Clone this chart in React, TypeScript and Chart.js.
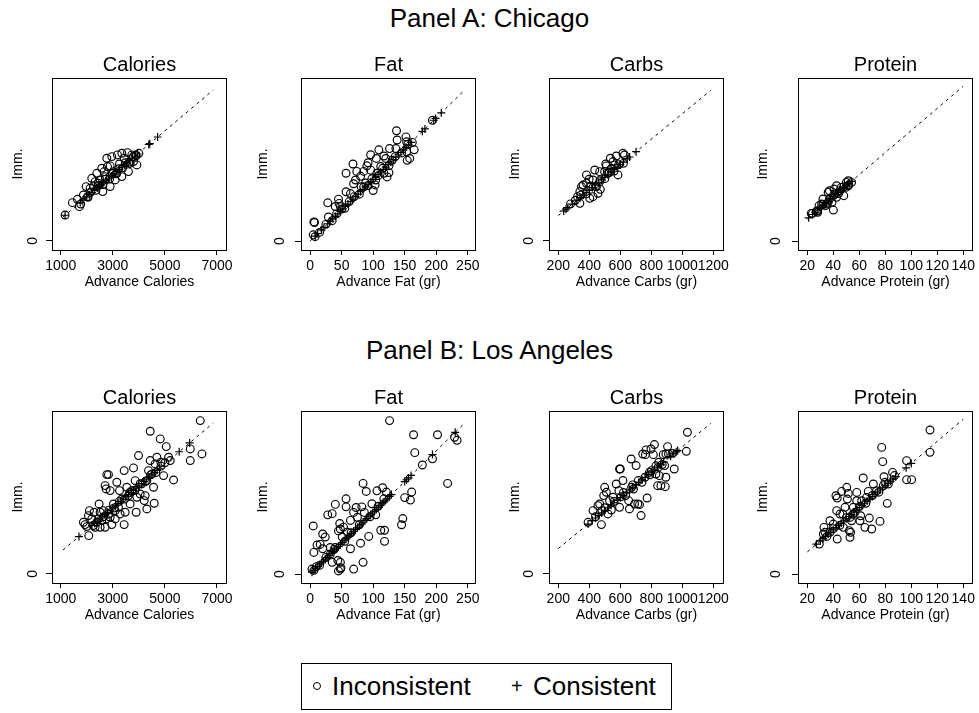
import React, { useEffect, useRef } from 'react';
import { Chart, registerables } from 'chart.js';
Chart.register(...registerables);

const FONT = '"Liberation Sans", Arial, Helvetica, sans-serif';

// ---------- categories / axes ----------
const nutrients = ['Calories', 'Fat', 'Carbs', 'Protein'];
const xAxisTitles = ['Advance Calories', 'Advance Fat (gr)', 'Advance Carbs (gr)', 'Advance Protein (gr)'];
const xTickValues = [
  [1000, 3000, 5000, 7000],
  [0, 50, 100, 150, 200, 250],
  [200, 400, 600, 800, 1000, 1200],
  [20, 40, 60, 80, 100, 120, 140],
];
const yTickValues = [0];
const xLimits: [number, number][] = [[665, 7385], [-14.4, 263], [140, 1269], [12.8, 147.5]];
const yLimits: [number, number][] = [[-410, 7400], [-14.6, 264.6], [-71, 1281], [-8.1, 147.4]];
const diagonalEnds: [number, number][] = [[1088, 6858], [0, 244], [200, 1183], [20, 140]];
const panelTitles = ['Panel A: Chicago', 'Panel B: Los Angeles'];
const legendLabels = ['Inconsistent', 'Consistent'];

// ---------- Panel A: Chicago ----------
const chicagoCaloriesInconsistent: [number, number][] = [
  [1167, 1181], [1449, 1741], [1718, 1559], [1769, 1680], [1974, 2468], [2026, 2014], [2192, 2846], [2256, 2468],
  [2385, 3073], [2449, 2619], [2577, 3301], [2615, 2241], [2705, 2922], [2769, 3755], [2795, 3376], [2897, 2468],
  [2961, 3830], [3026, 3149], [3090, 2771], [3179, 3906], [3256, 3497], [3346, 3982], [3346, 2922], [3436, 3755],
  [3564, 4012], [3602, 3149], [3730, 3906], [3795, 3603], [3897, 3861], [3923, 3452], [2513, 2770], [2320, 2695],
  [1872, 2089], [1641, 1892], [2128, 2392], [3154, 3073], [2897, 3407], [2667, 3149], [3666, 3528], [2050, 1980],
  [2150, 2220], [2350, 2300], [2450, 2520], [2620, 2560], [2720, 2800], [2880, 2820], [2980, 3060], [3120, 3050],
  [3220, 3280], [3380, 3320], [3480, 3550], [3620, 3580], [3780, 3820], [3880, 3900], [4000, 3980],
];
const chicagoCaloriesConsistent = [
  1167, 1750, 1850, 2000, 2100, 2200, 2300, 2400, 2480, 2550, 2650, 2750, 2850, 2950, 3050, 3150, 3250, 3350,
  3450, 3550, 3650, 3750, 3850, 3950, 4380, 4420, 4720,
];
const chicagoFatInconsistent: [number, number][] = [
  [5, 10], [8, 7], [6, 31], [7, 30], [28, 62], [45, 68], [46, 61], [57, 80], [57, 110], [68, 125], [69, 93], [80, 105],
  [81, 88], [90, 122], [92, 127], [96, 140], [100, 82], [103, 91], [105, 134], [109, 148], [117, 138], [120, 134],
  [126, 150], [136, 150], [137, 179], [138, 164], [152, 169], [153, 161], [154, 131], [158, 134], [165, 148],
  [153, 145], [117, 110], [112, 121], [85, 113], [74, 113], [96, 115], [106, 110], [72, 99], [64, 77], [48, 56],
  [40, 56], [29, 39], [88, 94], [130, 131], [125, 111], [122, 104], [104, 99], [194, 196], [15, 14], [25, 27],
  [35, 33], [42, 44], [50, 52], [55, 53], [62, 64], [70, 72], [78, 76], [85, 88], [92, 90], [98, 101], [108, 106],
  [115, 118], [125, 122], [135, 137], [145, 143], [155, 157], [162, 160],
];
const chicagoFatConsistent = [
  8, 12, 18, 22, 28, 32, 36, 40, 44, 48, 52, 56, 60, 64, 68, 72, 76, 80, 84, 88, 92, 96, 100, 104, 108, 112, 116,
  120, 124, 128, 132, 136, 140, 144, 148, 152, 156, 160, 178, 182, 196, 199, 208,
];
const chicagoCarbsInconsistent: [number, number][] = [
  [279, 291], [339, 296], [324, 348], [350, 427], [360, 440], [382, 453], [403, 335], [435, 558], [399, 485],
  [471, 406], [467, 466], [499, 545], [510, 590], [506, 605], [536, 650], [574, 668], [585, 519], [617, 689],
  [627, 676], [424, 479], [446, 427], [467, 545], [553, 624], [542, 571], [382, 519], [339, 388], [456, 375],
  [424, 348], [521, 532], [564, 597], [310, 320], [345, 360], [380, 370], [410, 430], [440, 430], [470, 480],
  [500, 490], [530, 540], [560, 550], [590, 600], [620, 610],
];
const chicagoCarbsConsistent = [
  235, 250, 262, 290, 320, 340, 360, 380, 400, 420, 440, 460, 480, 500, 520, 540, 560, 580, 600, 620, 645, 660, 702,
];
const chicagoProteinInconsistent: [number, number][] = [
  [23, 25], [27, 27], [29, 32], [28, 26], [32, 38], [34, 32], [36, 44], [37, 38], [40, 28], [40.5, 47], [42.5, 50],
  [46, 48.5], [48, 41], [50, 53], [51.5, 54.5], [49.7, 48.5], [45, 45.5], [42.5, 39.5], [39, 35], [35, 33.5],
  [31, 33.5], [41, 42.5], [37, 45.5], [51.5, 50], [54, 53], [24, 25], [28, 27.5], [32, 33], [36, 35], [40, 41],
  [44, 43], [48, 49], [52, 51],
];
const chicagoProteinConsistent = [21, 24, 26, 28, 30, 32, 34, 36, 38, 40, 42, 44, 46, 48, 50, 52, 54];

// ---------- Panel B: Los Angeles ----------
const laCaloriesInconsistent: [number, number][] = [
  [2077, 1741], [1872, 2347], [1936, 2241], [2102, 2877], [2064, 2650], [2192, 2498], [2282, 2801], [2385, 2347],
  [2474, 3179], [2513, 2801], [2577, 2422], [2705, 2120], [2743, 2498], [2769, 4512], [2833, 4512], [2705, 4012],
  [2743, 3861], [2897, 3785], [2961, 2241], [2897, 2574], [3090, 2877], [3154, 4163], [3256, 3785], [3436, 4693],
  [3436, 2241], [3474, 2801], [3538, 3936], [3602, 3558], [3666, 3179], [3795, 4815], [3859, 4239], [3897, 2801],
  [3987, 5375], [4051, 3633], [4205, 3331], [4244, 3558], [4308, 2952], [4436, 6480], [4436, 5148], [4500, 4542],
  [4564, 3936], [4590, 3210], [4628, 4996], [4692, 5299], [4821, 6132], [4846, 5072], [4949, 4466], [5051, 5783],
  [5141, 5299], [5205, 5148], [5333, 4269], [5974, 5148], [5974, 5678], [6359, 6964], [6423, 5451], [1999, 2150],
  [2320, 2120], [2513, 2120], [2641, 2877], [2833, 2725], [3026, 3179], [3218, 3028], [3346, 3406], [3090, 2498],
  [3282, 2725], [3730, 3785], [3923, 3482], [4115, 4088], [4308, 4239], [4372, 4693], [2250, 2200], [2450, 2500],
  [2650, 2600], [2850, 2900], [3050, 3000], [3250, 3300], [3450, 3400], [3650, 3700], [3850, 3800], [4050, 4100],
  [4250, 4200], [4450, 4500], [4650, 4600], [4850, 4900], [5000, 5050],
];
const laCaloriesConsistent = [
  1700, 2200, 2300, 2400, 2500, 2600, 2700, 2800, 2900, 3000, 3100, 3200, 3300, 3400, 3500, 3600, 3700, 3800,
  3900, 4000, 4100, 4200, 4300, 4400, 4500, 4600, 4700, 4800, 5550, 5950,
];
const laFatInconsistent: [number, number][] = [
  [126, 249], [164, 226], [202, 226], [229, 222], [233, 217], [166, 197], [178, 177], [194, 187], [218, 147],
  [161, 133], [159, 120], [150, 124], [147, 90], [145, 80], [84, 147], [89, 134], [106, 135], [115, 140], [121, 133],
  [57, 122], [57, 109], [40, 113], [35, 98], [28, 96], [69, 100], [73, 108], [82, 109], [86, 100], [98, 114],
  [117, 122], [112, 71], [118, 71], [118, 53], [104, 96], [93, 61], [80, 50], [64, 41], [5, 78], [20, 65], [24, 60],
  [11, 47], [16, 48], [6, 35], [20, 41], [32, 43], [35, 19], [47, 82], [48, 73], [45, 70], [53, 76], [59, 68],
  [44, 22], [48, 19], [48, 8], [45, 5], [49, 10], [69, 8], [84, 19], [3, 8], [75, 92], [64, 87], [51, 60], [40, 43],
  [32, 32], [6, 6], [10, 12], [15, 14], [25, 27], [38, 40], [55, 53], [65, 67], [78, 80], [95, 93], [108, 110],
];
const laFatConsistent = [
  3, 6, 9, 12, 15, 18, 21, 24, 27, 30, 33, 36, 39, 42, 45, 48, 51, 54, 57, 60, 63, 66, 69, 72, 75, 78, 81, 84, 87,
  90, 93, 96, 99, 102, 105, 108, 111, 114, 117, 120, 123, 126, 129, 150, 153, 156, 160, 194, 230,
];
const laCarbsInconsistent: [number, number][] = [
  [392, 406], [478, 388], [424, 498], [456, 537], [467, 550], [499, 681], [510, 642], [493, 616], [542, 503],
  [574, 707], [595, 825], [600, 825], [591, 655], [606, 608], [617, 734], [634, 616], [659, 511], [670, 904],
  [685, 668], [692, 550], [702, 852], [713, 550], [724, 545], [734, 459], [745, 943], [762, 938], [766, 975],
  [773, 597], [788, 799], [798, 982], [813, 938], [820, 1017], [830, 786], [848, 878], [852, 773], [841, 694],
  [862, 694], [890, 686], [877, 938], [894, 943], [905, 1001], [911, 943], [948, 825], [894, 760], [886, 852],
  [1033, 1114], [1026, 964], [937, 948], [553, 603], [673, 681], [716, 734], [595, 524], [654, 576], [531, 576],
  [759, 760], [801, 812], [844, 838], [520, 472], [481, 498], [440, 450], [500, 520], [560, 570], [620, 640],
  [680, 700], [740, 720], [790, 780], [830, 850], [870, 860],
];
const laCarbsConsistent = [
  392, 420, 440, 460, 480, 500, 520, 540, 560, 580, 600, 620, 640, 660, 680, 700, 720, 740, 760, 780, 800, 820,
  840, 860, 880, 925, 945, 960, 970,
];
const laProteinInconsistent: [number, number][] = [
  [29.2, 27.1], [32.8, 42.2], [33.6, 37.7], [32.3, 36.2], [37.4, 37.7], [42, 70.8], [43, 68.7], [42.6, 57.3],
  [43, 31.6], [46.4, 74.7], [47.2, 54.2], [47.7, 42.2], [50.3, 78.4], [50.8, 67.8], [51.5, 72.9], [52.3, 39.2],
  [52.8, 33.2], [53.3, 37.7], [54, 48.2], [58, 73.8], [61, 52.7], [63, 86.8], [64.3, 42.2], [66.9, 74.7],
  [67.7, 50.6], [69.5, 40.7], [70.8, 81.4], [75.9, 47.6], [77.2, 114.5], [78, 101.6], [79, 88], [79.7, 82.9],
  [81.5, 63.9], [82.3, 81.4], [85.6, 91.9], [87, 89], [96.4, 102.5], [96.4, 85.3], [100.2, 85.3], [114.4, 130.2],
  [114.4, 110], [37.4, 48.2], [40, 45.2], [45.1, 54.2], [49, 60.3], [55.4, 60.3], [58, 66.3], [61.8, 66.3],
  [65.6, 69.3], [73.3, 75.3], [78.5, 79.9], [60.5, 48.2], [56.7, 55.8], [52.8, 51.2], [35, 34], [40, 41], [45, 44],
  [50, 51], [55, 54], [60, 61], [65, 64], [70, 71], [75, 74],
];
const laProteinConsistent = [
  27, 30, 32, 34, 36, 38, 40, 42, 44, 46, 48, 50, 52, 54, 56, 58, 60, 62, 64, 66, 68, 70, 72, 74, 76, 78, 80, 82,
  84, 86, 88, 96, 100,
];

const inconsistentByRow = [
  [chicagoCaloriesInconsistent, chicagoFatInconsistent, chicagoCarbsInconsistent, chicagoProteinInconsistent],
  [laCaloriesInconsistent, laFatInconsistent, laCarbsInconsistent, laProteinInconsistent],
];
const consistentByRow = [
  [chicagoCaloriesConsistent, chicagoFatConsistent, chicagoCarbsConsistent, chicagoProteinConsistent],
  [laCaloriesConsistent, laFatConsistent, laCarbsConsistent, laProteinConsistent],
];

// ---------- layout (pixels) ----------
const CANVAS_W = 279;
const CANVAS_H = 244;
const colLefts = [0, 249, 497, 746];
const rowTops = [48, 381];
const yTitlePads = [9.6, 5.4, 9.3, 8.9];
const zeroOffsets = [19, 21, 20, 21.5];

const framePlugin = {
  id: 'frame',
  afterDraw(chart: any) {
    const { ctx, chartArea: a, scales } = chart;
    const opts = chart.options.plugins.frame || {};
    ctx.save();
    ctx.strokeStyle = '#000';
    ctx.lineWidth = 1;
    ctx.strokeRect(Math.round(a.left) + 0.5, Math.round(a.top) + 0.5, Math.round(a.right - a.left) - 1, Math.round(a.bottom - a.top));
    ctx.fillStyle = '#000';
    ctx.font = `14px ${FONT}`;
    ctx.textAlign = 'center';
    ctx.textBaseline = 'middle';
    for (const v of yTickValues) {
      ctx.save();
      ctx.translate(a.left - (opts.zeroOffset ?? 20), scales.y.getPixelForValue(v));
      ctx.rotate(-Math.PI / 2);
      ctx.fillText(String(v), 0, 0);
      ctx.restore();
    }
    ctx.restore();
  },
};

type PanelProps = { row: number; col: number };

function Panel({ row, col }: PanelProps) {
  const ref = useRef<HTMLCanvasElement>(null);
  useEffect(() => {
    const inc = inconsistentByRow[row][col];
    const con = consistentByRow[row][col];
    const diag = diagonalEnds[col];
    const ticks = xTickValues[col];
    const chart = new Chart(ref.current as HTMLCanvasElement, {
      type: 'scatter',
      data: {
        datasets: [
          {
            label: 'line',
            data: [{ x: diag[0], y: diag[0] }, { x: diag[1], y: diag[1] }],
            showLine: true,
            borderDash: [3, 4],
            borderColor: '#000',
            borderWidth: 1,
            pointRadius: 0,
            xAxisID: 'x',
            yAxisID: 'y',
          } as any,
          {
            label: legendLabels[0],
            data: inc.map(([x, y]) => ({ x, y })),
            pointStyle: 'circle',
            pointRadius: 3.9,
            borderColor: '#000',
            backgroundColor: 'rgba(0,0,0,0)',
            borderWidth: 1.15,
            xAxisID: 'x',
            yAxisID: 'y',
          } as any,
          {
            label: legendLabels[1],
            data: con.map((v) => ({ x: v, y: v })),
            pointStyle: 'cross',
            pointRadius: 4,
            borderColor: '#000',
            borderWidth: 1.2,
            xAxisID: 'x',
            yAxisID: 'y',
          } as any,
        ],
      },
      options: {
        responsive: false,
        animation: false,
        devicePixelRatio: 1,
        events: [],
        layout: { padding: 0, autoPadding: false } as any,
        plugins: {
          legend: { display: false },
          tooltip: { enabled: false },
          title: {
            display: true,
            text: nutrients[col],
            color: '#000',
            font: { size: 20, family: FONT, weight: 'normal' as any },
            padding: { top: 5, bottom: 1 },
          },
          frame: { zeroOffset: zeroOffsets[col] },
        } as any,
        scales: {
          x: {
            type: 'linear',
            position: 'bottom',
            min: xLimits[col][0],
            max: xLimits[col][1],
            afterBuildTicks: (s: any) => {
              s.ticks = ticks.map((v) => ({ value: v }));
            },
            afterFit: (s: any) => {
              s.height = 42;
              s.paddingLeft = 0;
              s.paddingRight = 0;
            },
            ticks: {
              autoSkip: false,
              maxRotation: 0,
              minRotation: 0,
              padding: 3,
              color: '#000',
              font: { size: 14, family: FONT },
              callback: (v: any) => String(v),
            },
            grid: { display: true, drawOnChartArea: false, drawTicks: true, tickLength: 5, color: '#000', lineWidth: 1 },
            border: { display: false },
            title: {
              display: true,
              text: xAxisTitles[col],
              color: '#000',
              font: { size: 14, family: FONT },
              padding: { top: 0, bottom: 1 },
            },
          },
          y: {
            type: 'linear',
            position: 'left',
            min: yLimits[col][0],
            max: yLimits[col][1],
            afterBuildTicks: (s: any) => {
              s.ticks = yTickValues.map((v) => ({ value: v }));
            },
            afterFit: (s: any) => {
              s.width = 52;
              s.paddingTop = 0;
              s.paddingBottom = 0;
            },
            ticks: { display: false },
            grid: { display: true, drawOnChartArea: false, drawTicks: true, tickLength: 6, color: '#000', lineWidth: 1 },
            border: { display: false },
            title: {
              display: true,
              text: 'Imm.',
              color: '#000',
              font: { size: 14, family: FONT },
              padding: { top: yTitlePads[col], bottom: 0 },
            },
          },
          yR: {
            type: 'linear',
            position: 'right',
            display: true,
            afterFit: (s: any) => {
              s.width = 52;
              s.paddingTop = 0;
              s.paddingBottom = 0;
            },
            ticks: { display: false },
            grid: { display: false },
            border: { display: false },
          },
        } as any,
      },
      plugins: [framePlugin],
    });
    return () => chart.destroy();
  }, [row, col]);
  return (
    <canvas
      ref={ref}
      width={CANVAS_W}
      height={CANVAS_H}
      style={{ position: 'absolute', left: colLefts[col], top: rowTops[row], width: CANVAS_W, height: CANVAS_H }}
    />
  );
}

export default function App() {
  return (
    <div
      style={{
        position: 'fixed',
        left: 0,
        top: 0,
        width: 979,
        height: 713,
        background: '#fff',
        overflow: 'hidden',
        fontFamily: FONT,
        color: '#000',
      }}
    >
      <div style={{ position: 'absolute', left: 0, top: 3, width: 979, textAlign: 'center', fontSize: 26, lineHeight: '30px' }}>
        {panelTitles[0]}
      </div>
      <div style={{ position: 'absolute', left: 0, top: 335, width: 979, textAlign: 'center', fontSize: 26, lineHeight: '30px' }}>
        {panelTitles[1]}
      </div>
      {[0, 1].map((r) => [0, 1, 2, 3].map((c) => <Panel key={`${r}-${c}`} row={r} col={c} />))}
      <div
        style={{
          position: 'absolute',
          left: 301,
          top: 663,
          width: 371,
          height: 47,
          border: '1px solid #000',
          boxSizing: 'border-box',
        }}
      >
        <span
          style={{
            position: 'absolute',
            left: 11,
            top: 18,
            width: 8,
            height: 8,
            border: '1.5px solid #000',
            borderRadius: '50%',
            boxSizing: 'border-box',
          }}
        />
        <span style={{ position: 'absolute', left: 30, top: 7, fontSize: 26, lineHeight: '30px' }}>{legendLabels[0]}</span>
        <span style={{ position: 'absolute', left: 209, top: 7, fontSize: 20, lineHeight: '30px' }}>+</span>
        <span style={{ position: 'absolute', left: 231, top: 7, fontSize: 26, lineHeight: '30px' }}>{legendLabels[1]}</span>
      </div>
    </div>
  );
}
